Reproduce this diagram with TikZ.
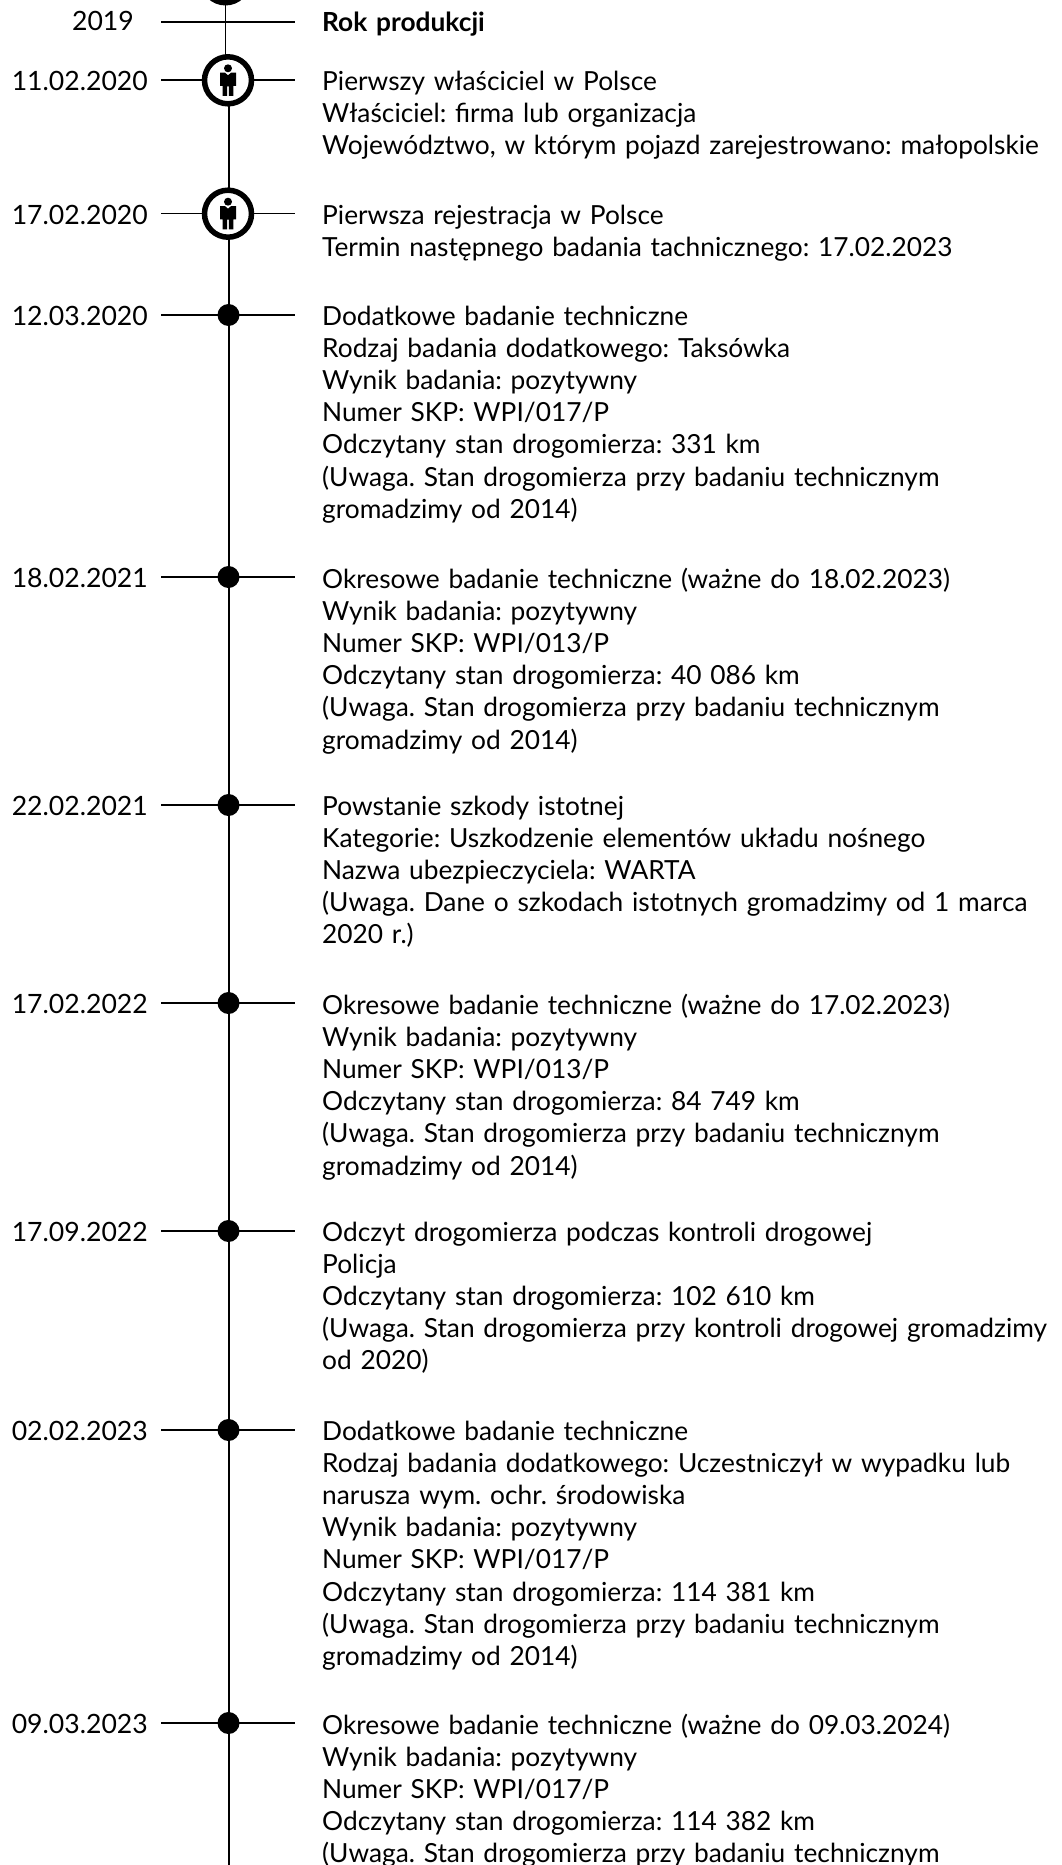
\documentclass[tikz,border=0pt]{standalone}
\usepackage{fontspec}
\setmainfont{Lato}
\frenchspacing
\tikzset{
 spine/.style={line width=1.5pt,black},
 tick/.style={line width=1.2pt,black},
 datelabel/.style={anchor=base east,inner sep=0pt,font=\fontsize{26.6pt}{32.2pt}\selectfont},
 infotext/.style={anchor=north west,inner sep=0pt,align=left,text width=790pt,font=\fontsize{26.3pt}{32.2pt}\selectfont},
 ring/.style={circle,draw=black,line width=5.5pt,fill=white,minimum size=47pt,inner sep=0pt},
 dot/.style={circle,fill=black,minimum size=22pt,inner sep=0pt},
}
\newcommand{\personicon}[1]{%
 \fill[black] ($(#1)+(0,-12)$) circle (4);
 \fill[black] ($(#1)+(-8,-7.6)$) -- ($(#1)+(-3,-7.6)$) -- ($(#1)+(0,-5)$) -- ($(#1)+(3,-7.6)$) -- ($(#1)+(8,-7.6)$) -- ($(#1)+(8,5.7)$) -- ($(#1)+(5.3,5.7)$) -- ($(#1)+(5.3,15.7)$) -- ($(#1)+(0.8,15.7)$) -- ($(#1)+(0.8,6)$) -- ($(#1)+(-0.8,6)$) -- ($(#1)+(-0.8,15.7)$) -- ($(#1)+(-5.3,15.7)$) -- ($(#1)+(-5.3,5.7)$) -- ($(#1)+(-8,5.7)$) -- cycle;
}
\usetikzlibrary{calc}
\begin{document}
\begin{tikzpicture}[x=1pt,y=-1pt]
\useasboundingbox (0,0) rectangle (1061,1865);
\coordinate (top) at (225.4,0);
\coordinate (topb) at (225.4,55);
\coordinate (sp) at (229.2,106);
\coordinate (spb) at (229.2,1865);
\draw[spine] (top) -- (topb);
\draw[spine] (sp) -- (spb);
\fill[black] (225.5,-20) circle (25.5);
\foreach \n/\y in {a/22,b/80,c/213.5,d/315,e/577,f/805,g/1003,h/1231,i/1430,j/1723}{
  \coordinate (l\n) at (161,\y);
  \coordinate (r\n) at (295,\y);
  \draw[tick] (l\n) -- (r\n);
}
\foreach \n/\y in {d/315,e/577,f/805,g/1003,h/1231,i/1430,j/1723}{
  \node[dot] (m\n) at (228.5,\y) {};
}
\node[ring] (mb) at (228,80.3) {};
\node[ring] (mc) at (228,213.7) {};
\personicon{mb}
\personicon{mc}
\node[datelabel] (da) at (134,31) {2019};
\node[datelabel] (db) at (148,90.5) {11.02.2020};
\node[datelabel] (dc) at (148,224) {17.02.2020};
\node[datelabel] (dd) at (148,325) {12.03.2020};
\node[datelabel] (de) at (148,587) {18.02.2021};
\node[datelabel] (df) at (148,815) {22.02.2021};
\node[datelabel] (dg) at (148,1013) {17.02.2022};
\node[datelabel] (dh) at (148,1241) {17.09.2022};
\node[datelabel] (di) at (148,1440) {02.02.2023};
\node[datelabel] (dj) at (148,1733) {09.03.2023};
\node[infotext] (ta) at (322,11.5) {\textbf{Rok produkcji}};
\node[infotext] (tb) at (322,70.5) {Pierwszy właściciel w Polsce\\Właściciel: firma lub organizacja\\Województwo, w którym pojazd zarejestrowano: małopolskie};
\node[infotext] (tc) at (322,204.5) {Pierwsza rejestracja w Polsce\\Termin następnego badania tachnicznego: 17.02.2023};
\node[infotext] (td) at (322,305.5) {Dodatkowe badanie techniczne\\Rodzaj badania dodatkowego: Taksówka\\Wynik badania: pozytywny\\Numer SKP: WPI/017/P\\Odczytany stan drogomierza: 331 km\\(Uwaga. Stan drogomierza przy badaniu technicznym\\gromadzimy od 2014)};
\node[infotext] (te) at (322,567.5) {Okresowe badanie techniczne (ważne do 18.02.2023)\\Wynik badania: pozytywny\\Numer SKP: WPI/013/P\\Odczytany stan drogomierza: 40 086 km\\(Uwaga. Stan drogomierza przy badaniu technicznym\\gromadzimy od 2014)};
\node[infotext] (tf) at (322,795.5) {Powstanie szkody istotnej\\Kategorie: Uszkodzenie elementów układu nośnego\\Nazwa ubezpieczyciela: WARTA\\(Uwaga. Dane o szkodach istotnych gromadzimy od 1 marca\\2020 r.)};
\node[infotext] (tg) at (322,993.5) {Okresowe badanie techniczne (ważne do 17.02.2023)\\Wynik badania: pozytywny\\Numer SKP: WPI/013/P\\Odczytany stan drogomierza: 84 749 km\\(Uwaga. Stan drogomierza przy badaniu technicznym\\gromadzimy od 2014)};
\node[infotext] (th) at (322,1221.5) {Odczyt drogomierza podczas kontroli drogowej\\Policja\\Odczytany stan drogomierza: 102 610 km\\(Uwaga. Stan drogomierza przy kontroli drogowej gromadzimy\\od 2020)};
\node[infotext] (ti) at (322,1420.5) {Dodatkowe badanie techniczne\\Rodzaj badania dodatkowego: Uczestniczył w wypadku lub\\narusza wym. ochr. środowiska\\Wynik badania: pozytywny\\Numer SKP: WPI/017/P\\Odczytany stan drogomierza: 114 381 km\\(Uwaga. Stan drogomierza przy badaniu technicznym\\gromadzimy od 2014)};
\node[infotext] (tj) at (322,1713.5) {Okresowe badanie techniczne (ważne do 09.03.2024)\\Wynik badania: pozytywny\\Numer SKP: WPI/017/P\\Odczytany stan drogomierza: 114 382 km\\(Uwaga. Stan drogomierza przy badaniu technicznym};
\end{tikzpicture}
\end{document}
